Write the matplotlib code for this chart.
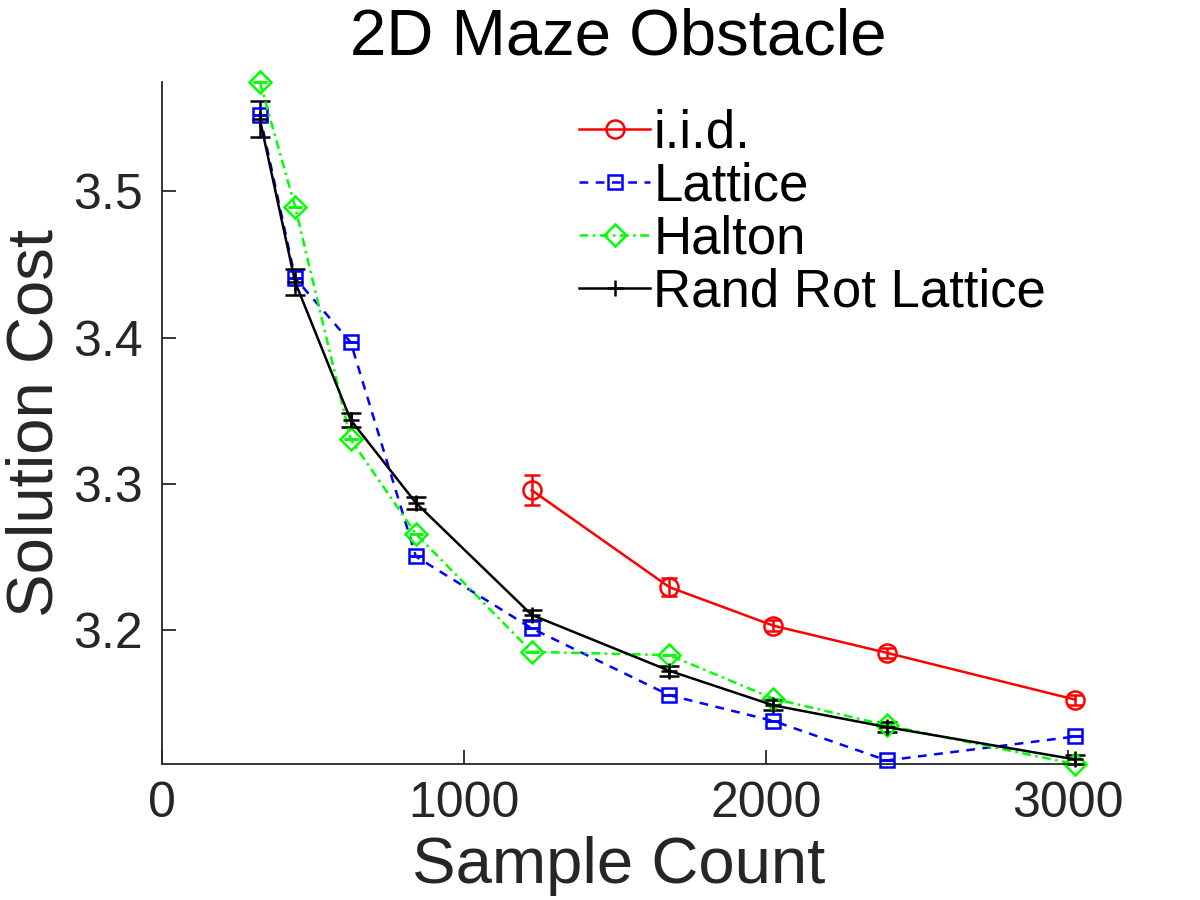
import matplotlib
matplotlib.use("Agg")
import matplotlib.pyplot as plt

plt.rcParams['font.family'] = ['Liberation Sans', 'DejaVu Sans']

# Sample counts (lattice sizes k^2)
samples_lattice = [324, 441, 625, 841, 1225, 1681, 2025, 2401, 3025]
samples_iid = [1225, 1681, 2025, 2401, 3025]

iid_cost = [3.2956, 3.2293, 3.2030, 3.1844, 3.1524]
iid_err = [0.0103, 0.0063, 0.0040, 0.0035, 0.0035]

lattice_cost = [3.5523, 3.4407, 3.3968, 3.2503, 3.2011, 3.1554, 3.1378, 3.1108, 3.1272]
lattice_err = [0, 0, 0, 0, 0, 0, 0, 0, 0]

halton_cost = [3.5749, 3.4894, 3.3304, 3.2657, 3.1851, 3.1828, 3.1531, 3.1348, 3.1083]
halton_err = [0, 0, 0, 0, 0, 0, 0, 0, 0]

rrl_cost = [3.5495, 3.4380, 3.3437, 3.2870, 3.2103, 3.1721, 3.1485, 3.1336, 3.1115]
rrl_err = [0.0125, 0.0087, 0.0050, 0.0040, 0.0035, 0.0035, 0.0035, 0.0035, 0.0030]

labels = ['i.i.d.', 'Lattice', 'Halton', 'Rand Rot Lattice']
xticks = [0, 1000, 2000, 3000]
yticks = [3.2, 3.3, 3.4, 3.5]

fig = plt.figure(figsize=(12, 9), dpi=100)
ax = fig.add_axes([0.135, 0.151, 0.761, 0.758])

lw = 1.8
handles = []
c = ax.errorbar(samples_iid, iid_cost, yerr=iid_err, color=(1, 0, 0), ls='-', lw=lw,
                marker='o', ms=13, mfc='none', mew=1.8, capsize=6, elinewidth=lw, capthick=lw)
handles.append(c[0])
c = ax.errorbar(samples_lattice, lattice_cost, yerr=lattice_err, color=(0, 0, 1), ls='--', lw=lw,
                dashes=(3.5, 3), marker='s', ms=10, mfc='none', mew=1.8, capsize=5,
                elinewidth=lw, capthick=lw)
handles.append(c[0])
c = ax.errorbar(samples_lattice, halton_cost, yerr=halton_err, color=(0, 1, 0), ls='-.', lw=lw,
                dashes=(3.5, 1.8, 1.0, 1.8), marker='D', ms=11, mfc='none', mew=1.8, capsize=5,
                elinewidth=lw, capthick=lw)
handles.append(c[0])
c = ax.errorbar(samples_lattice, rrl_cost, yerr=rrl_err, color='black', ls='-', lw=lw,
                marker='+', ms=12, mew=1.8, capsize=7, elinewidth=lw, capthick=lw)
handles.append(c[0])

for cont in ax.containers:
    for art in cont.get_children():
        art.set_clip_on(False)

ax.set_xlim(0, 3025)
ax.set_ylim(3.1083, 3.5749)
ax.set_xticks(xticks)
ax.set_xticklabels([str(t) for t in xticks])
ax.set_yticks(yticks)
ax.set_yticklabels(['%.1f' % t for t in yticks])

for s in ['top', 'right']:
    ax.spines[s].set_visible(False)
for s in ['left', 'bottom']:
    ax.spines[s].set_color('#262626')
    ax.spines[s].set_linewidth(1.3)
ax.tick_params(direction='in', length=10, width=1.3, colors='#262626', labelsize=36)
ax.tick_params(axis='y', pad=14)
ax.tick_params(axis='x', pad=12)

ax.set_xlabel('Sample Count', fontsize=47, color='#262626', labelpad=7)
ax.set_ylabel('Solution Cost', fontsize=47, color='#262626', labelpad=5)
ax.set_title('2D Maze Obstacle', fontsize=47, color='black', pad=20)

leg = ax.legend(handles, labels, loc='upper left', bbox_to_anchor=(0.428, 1.0), frameon=False,
                fontsize=38, handlelength=1.35, handletextpad=0.05, labelspacing=0.06,
                borderaxespad=0.3, borderpad=0.2)

fig.savefig('out.png', dpi=100)
